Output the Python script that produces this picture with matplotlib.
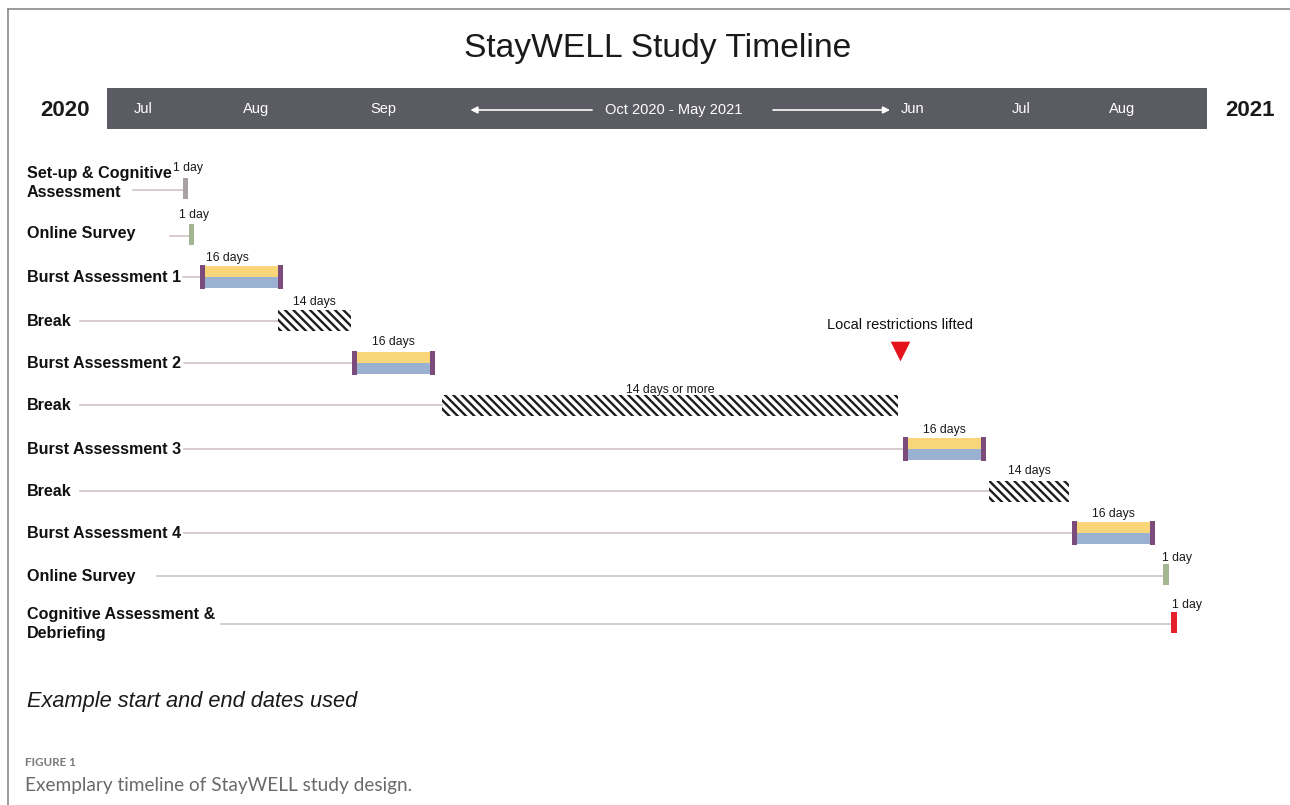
import matplotlib
matplotlib.use("Agg")
import matplotlib.pyplot as plt
from matplotlib.patches import Rectangle

plt.rcParams['font.family'] = ['Liberation Sans', 'DejaVu Sans']
plt.rcParams['hatch.linewidth'] = 1.7

# ---------------- data ----------------
title = "StayWELL Study Timeline"
tasks = ["Set-up & Cognitive\nAssessment", "Online Survey", "Burst Assessment 1", "Break",
         "Burst Assessment 2", "Break", "Burst Assessment 3", "Break",
         "Burst Assessment 4", "Online Survey", "Cognitive Assessment &\nDebriefing"]
kinds = ["setup", "survey", "burst", "break", "burst", "break", "burst", "break",
         "burst", "survey", "final"]
# timeline position (display days from start of Burst 1) and display length
starts = [-3.3, -2.1, 0.0, 15.0, 29.2, 46.5, 135.2, 151.7, 167.7, 185.2, 186.7]
durations = [1.0, 1.0, 16.0, 14.0, 16.0, 87.7, 16.0, 15.5, 16.0, 1.1, 1.1]
duration_labels = ["1 day", "1 day", "16 days", "14 days", "16 days", "14 days or more",
                   "16 days", "14 days", "16 days", "1 day", "1 day"]
months = ["Jul", "Aug", "Sep", "Jun", "Jul", "Aug"]
month_pos = [-11.0, 10.8, 35.2, 137.0, 158.0, 177.3]
gap_label = "Oct 2020 - May 2021"
gap_center = 91.0
gap_arrow_left = [75.4, 52.0]
gap_arrow_right = [110.2, 132.7]
year_labels = ["2020", "2021"]
event_label = "Local restrictions lifted"
event_pos = 134.6
note = "Example start and end dates used"
fig_label = "FIGURE 1"
caption = "Exemplary timeline of StayWELL study design."

# ---------------- layout ----------------
W, H = 1290, 805
PX = 5.2          # pixels per display day
X0 = 200          # pixel of day 0
row_y = [190, 236, 277, 321, 363, 405, 449, 491, 533, 576, 624]
label_y = [183, 233, 277, 321, 363, 405, 449, 491, 533, 576, 624]
conn_start_px = [133, 170, 183, 80, 184, 80, 184, 80, 184, 157, 221]
dur_label_dx = [0.5, 0.4, -2.7, 0, 0, 0, 0, 0, 0, 2.1, 2.5]
dur_label_y = [168, 215, 258, 302, 342, 390, 430, 471, 514, 558, 605]
bar_h = 22

colors = {"setup": "#A9A1A1", "survey": "#A4B691", "final": "#E5202A"}
yellow, blue, purple = "#F9D57A", "#9AB1D2", "#7B4B7B"
conn_color = "#CBBFBF"

fig = plt.figure(figsize=(W / 100, H / 100), dpi=100)

# background / decoration axes in pixel coords
bg = fig.add_axes([0, 0, 1, 1])
bg.set_xlim(0, W)
bg.set_ylim(H, 0)
bg.axis("off")

# timeline axes: x in display days, y in pixels
ax = fig.add_axes([0, 0, 1, 1])
ax.set_xlim((0 - X0) / PX, (W - X0) / PX)
ax.set_ylim(H, 0)
ax.axis("off")
ax.patch.set_alpha(0)

# frame
bg.plot([8, W], [9, 9], color="#8a8a8a", lw=1.2)
bg.plot([8, 8], [9, H], color="#8a8a8a", lw=1.2)

bg.text(658, 48, title, ha="center", va="center", fontsize=24.2, color="#1a1a1a")

# header band
bg.add_patch(Rectangle((107, 88), 1100, 41, color="#5B5B63", lw=0))
bg.text(65, 110, year_labels[0], ha="center", va="center", fontsize=16, fontweight="bold", color="#1a1a1a")
bg.text(1250, 110, year_labels[1], ha="center", va="center", fontsize=16, fontweight="bold", color="#1a1a1a")
for m, p in zip(months, month_pos):
    ax.text(p, 109, m, ha="center", va="center", fontsize=10.5, color="white")
ax.text(gap_center, 110, gap_label, ha="center", va="center", fontsize=10.5, color="white")
for a in (gap_arrow_left, gap_arrow_right):
    ax.annotate("", xy=(a[1], 110), xytext=(a[0], 110),
                arrowprops=dict(arrowstyle="-|>", color="white", lw=1.2,
                                mutation_scale=10, shrinkA=0, shrinkB=0))

# rows
for i, (t, k, s, d, dl) in enumerate(zip(tasks, kinds, starts, durations, duration_labels)):
    y = row_y[i]
    bg.text(27, label_y[i], t, ha="left", va="center", fontsize=11.6, fontweight="bold",
            color="#111111", linespacing=1.3)
    cx = (conn_start_px[i] - X0) / PX
    ax.plot([cx, s], [y, y], color=conn_color, lw=1.1, zorder=1)
    if k == "burst":
        ax.barh(y - bar_h / 4, d, left=s, height=bar_h / 2, color=yellow, lw=0, zorder=2)
        ax.barh(y + bar_h / 4, d, left=s, height=bar_h / 2, color=blue, lw=0, zorder=2)
        ax.barh(y, 1.0, left=s, height=bar_h + 2, color=purple, lw=0, zorder=3)
        ax.barh(y, 1.0, left=s + d - 1.0, height=bar_h + 2, color=purple, lw=0, zorder=3)
    elif k == "break":
        ax.barh(y, d, left=s, height=bar_h - 1, facecolor="none", edgecolor="#1c1c1c",
                hatch="\\\\\\\\", lw=0, zorder=2)
    else:
        ax.barh(y - 1.5, d, left=s, height=bar_h - 1, color=colors[k], lw=0, zorder=2)
    ax.text(s + d / 2 + dur_label_dx[i], dur_label_y[i], dl, ha="center", va="center",
            fontsize=8.8, color="#1a1a1a")

# event marker
ax.text(event_pos, 325, event_label, ha="center", va="center", fontsize=10.5, color="#111111")
ax.scatter([event_pos], [351], marker="v", s=200, color="#E5141C", lw=0, zorder=4)

bg.text(27, 701, note, ha="left", va="center", fontsize=15.7, style="italic", color="#1a1a1a")
bg.text(25, 762, fig_label, ha="left", va="center", fontsize=8.4, fontweight="bold",
        color="#7a7a7a", family=["Lato", "DejaVu Sans"])
bg.text(25, 785, caption, ha="left", va="center", fontsize=13.7, color="#6a6a6a",
        family=["Lato", "DejaVu Sans"])

fig.savefig("out.png", dpi=100)
